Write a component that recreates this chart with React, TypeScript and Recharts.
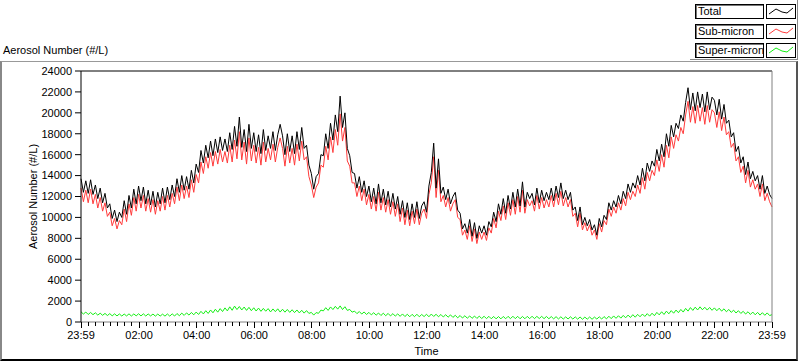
import React from "react";
import { LineChart, Line, XAxis, YAxis, ReferenceLine } from "recharts";

// minutes after 23:59, one sample every 5 minutes
const SAMPLE_STEP = 5;

// Total (#/L), one row per hour starting 23:59
const TOTAL = [
  [13700, 12400, 13500, 12300, 13600, 12200, 13100, 11800, 12800, 11400, 12300, 10900],
  [11300, 9900, 10700, 9600, 10500, 10000, 11600, 10300, 12100, 10900, 12700, 11300],
  [13000, 11600, 12900, 11300, 12600, 11200, 12500, 11000, 12400, 11300, 12800, 11400],
  [12900, 11700, 13100, 12000, 13700, 12400, 14000, 12600, 13900, 12700, 14500, 13300],
  [15100, 14300, 16400, 15200, 16900, 15700, 17300, 15900, 17500, 16200, 17700, 16400],
  [17500, 16300, 18100, 16500, 18700, 16800, 19600, 16700, 18400, 16300, 18900, 16600],
  [18100, 16300, 17900, 16100, 18400, 16400, 17800, 16600, 18200, 16400, 17900, 18900],
  [17800, 16000, 18000, 16300, 17800, 16100, 18200, 16500, 18600, 16600, 16900, 15000],
  [14200, 12700, 13900, 14200, 16000, 15900, 18000, 16600, 19000, 17400, 19800, 18200],
  [21600, 18600, 20000, 16600, 15900, 14300, 14200, 12800, 13900, 12400, 13500, 12000],
  [13000, 11500, 12800, 11300, 13200, 11400, 12700, 11200, 12500, 11000, 12300, 10800],
  [12000, 10300, 11600, 10000, 11400, 9800, 11300, 10000, 11500, 9900, 11100, 11500],
  [10500, 13000, 14300, 17100, 12800, 15600, 12300, 12900, 11700, 12700, 11300, 12000],
  [12400, 10700, 10400, 8900, 9400, 8500, 9800, 8200, 9500, 8000, 9200, 8500],
  [9200, 8300, 9600, 9100, 10500, 9600, 11300, 10300, 11800, 10400, 12100, 10800],
  [12400, 11000, 12700, 11100, 13400, 11000, 12400, 11800, 12300, 11200, 12800, 11400],
  [12600, 11600, 12400, 11700, 12800, 11600, 13000, 11900, 13300, 11800, 12600, 11700],
  [12400, 10700, 11000, 9700, 11000, 9300, 10000, 9200, 9800, 8800, 9300, 8300],
  [9900, 9100, 10200, 9800, 11400, 10700, 11600, 11000, 12100, 11300, 12500, 11800],
  [13200, 12400, 13300, 12800, 14000, 13100, 14700, 13500, 15200, 14400, 15400, 14900],
  [16500, 15400, 17000, 15800, 18000, 16800, 18800, 17700, 19000, 18500, 19800, 19200],
  [21000, 22400, 20300, 21900, 20200, 22000, 20500, 21800, 20100, 22000, 20300, 21500],
  [21200, 19800, 21300, 19400, 20800, 19000, 19300, 17700, 18100, 16300, 16800, 15200],
  [15800, 14100, 15300, 13700, 14400, 13500, 14000, 12700, 14000, 12300, 13000, 12200],
  [11800],
].flat();

const SUB_MICRON = [
  [12800, 11500, 12600, 11400, 12700, 11300, 12200, 10900, 11900, 10600, 11400, 10100],
  [10500, 9200, 9900, 8900, 9700, 9300, 10800, 9600, 11300, 10200, 11900, 10600],
  [12200, 10900, 12100, 10600, 11800, 10500, 11700, 10300, 11600, 10600, 12000, 10700],
  [12100, 11000, 12300, 11300, 12900, 11600, 13100, 11800, 13000, 11900, 13600, 12400],
  [14100, 13300, 15300, 14200, 15800, 14700, 16200, 14900, 16300, 15100, 16500, 15300],
  [16300, 15200, 16900, 15300, 17400, 15600, 18200, 15500, 17200, 15100, 17600, 15400],
  [16900, 15200, 16700, 15000, 17200, 15300, 16600, 15500, 17000, 15300, 16700, 17600],
  [16600, 14900, 16800, 15200, 16600, 15000, 17000, 15400, 17300, 15500, 15800, 13900],
  [13100, 11900, 12900, 13300, 15000, 14800, 16800, 15500, 17700, 16200, 18400, 16900],
  [19900, 17300, 18600, 15400, 14900, 13300, 13300, 12000, 13000, 11600, 12700, 11200],
  [12200, 10800, 12000, 10600, 12400, 10700, 11900, 10500, 11700, 10300, 11500, 10100],
  [11300, 9600, 10900, 9300, 10700, 9200, 10600, 9400, 10800, 9300, 10400, 10800],
  [9900, 12200, 13300, 15800, 11900, 14500, 11500, 12100, 11000, 11900, 10600, 11300],
  [11700, 10000, 9800, 8300, 8800, 7900, 9200, 7700, 8900, 7500, 8600, 7900],
  [8600, 7800, 9000, 8500, 9900, 9000, 10600, 9700, 11100, 9800, 11400, 10200],
  [11700, 10300, 12000, 10500, 12600, 10400, 11700, 11100, 11600, 10600, 12100, 10800],
  [11900, 10900, 11700, 11000, 12100, 11000, 12300, 11200, 12500, 11100, 11900, 11000],
  [11700, 10100, 10400, 9100, 10400, 8800, 9500, 8700, 9300, 8300, 8800, 7900],
  [9400, 8600, 9700, 9300, 10800, 10100, 11000, 10400, 11400, 10700, 11800, 11100],
  [12400, 11700, 12500, 12000, 13100, 12300, 13800, 12700, 14300, 13500, 14500, 14000],
  [15500, 14400, 16000, 14800, 16900, 15700, 17700, 16600, 17900, 17300, 18600, 18000],
  [19800, 21100, 19100, 20600, 19000, 20700, 19200, 20500, 18900, 20700, 19100, 20300],
  [20000, 18600, 20100, 18300, 19600, 17900, 18200, 16700, 17100, 15400, 15800, 14300],
  [14900, 13300, 14500, 12900, 13600, 12700, 13200, 12000, 13200, 11600, 12300, 11500],
  [11000],
].flat();

const SUPER_MICRON = [
  [980, 760, 950, 720, 910, 700, 880, 660, 840, 640, 820, 620],
  [800, 590, 780, 580, 770, 570, 760, 580, 780, 570, 770, 590],
  [790, 580, 780, 570, 770, 580, 760, 560, 760, 570, 750, 560],
  [770, 560, 780, 570, 810, 600, 850, 630, 870, 660, 910, 690],
  [950, 720, 1020, 770, 1080, 820, 1150, 880, 1220, 940, 1280, 1000],
  [1350, 1060, 1450, 1120, 1520, 1190, 1480, 1150, 1430, 1110, 1400, 1080],
  [1360, 1050, 1330, 1020, 1300, 1030, 1280, 960, 1250, 990, 1260, 950],
  [1220, 940, 1200, 920, 1170, 900, 1150, 870, 1120, 850, 1090, 820],
  [920, 660, 900, 830, 1140, 1060, 1370, 1110, 1440, 1190, 1500, 1230],
  [1540, 1190, 1460, 1110, 1200, 940, 1040, 800, 1000, 760, 960, 720],
  [920, 680, 890, 650, 860, 620, 840, 600, 820, 580, 800, 560],
  [780, 540, 770, 520, 740, 500, 730, 510, 740, 500, 720, 520],
  [740, 500, 760, 530, 740, 500, 720, 480, 700, 460, 680, 440],
  [640, 400, 620, 380, 600, 360, 580, 350, 570, 340, 560, 330],
  [550, 320, 540, 310, 530, 300, 520, 300, 530, 310, 540, 320],
  [550, 320, 540, 310, 530, 310, 540, 320, 550, 320, 540, 330],
  [540, 320, 530, 310, 520, 300, 510, 290, 500, 280, 490, 290],
  [500, 280, 490, 270, 480, 260, 470, 270, 480, 260, 470, 280],
  [500, 280, 520, 300, 550, 320, 580, 350, 600, 370, 630, 400],
  [660, 430, 700, 460, 730, 500, 760, 530, 800, 560, 840, 600],
  [920, 680, 980, 720, 1040, 780, 1090, 840, 1140, 890, 1200, 950],
  [1300, 1040, 1380, 1110, 1420, 1150, 1450, 1170, 1410, 1140, 1390, 1120],
  [1350, 1080, 1320, 1040, 1260, 980, 1200, 920, 1130, 860, 1080, 820],
  [1020, 760, 980, 720, 950, 690, 920, 660, 890, 640, 870, 620],
  [700],
].flat();

const Y_TICKS = [0, 2000, 4000, 6000, 8000, 10000, 12000, 14000, 16000, 18000, 20000, 22000, 24000];

// labelled x ticks (minutes after 23:59)
const MAJOR_TICKS = [0, 121, 241, 361, 481, 601, 721, 841, 961, 1081, 1201, 1321, 1440];
const MAJOR_LABELS = ["23:59", "02:00", "04:00", "06:00", "08:00", "10:00", "12:00", "14:00", "16:00", "18:00", "20:00", "22:00", "23:59"];

const SERIES_NAMES = ["Total", "Sub-micron", "Super-micron"];
const SERIES_COLORS = ["#000000", "#ff3b3b", "#14f014"];

const data = TOTAL.map((v, i) => ({
  t: i * SAMPLE_STEP,
  total: v,
  sub: SUB_MICRON[i],
  sup: SUPER_MICRON[i],
}));

// quarter-hour minor ticks + the labelled ones
const minorTicks: number[] = [];
for (let m = 1; m < 1440; m += 15) {
  if (!MAJOR_TICKS.includes(m)) minorTicks.push(m);
}
const allTicks = [...MAJOR_TICKS, ...minorTicks].sort((a, b) => a - b);

const FONT = "'Liberation Sans', Arial, sans-serif";

function TimeTick(props: any) {
  const { x, y, payload } = props;
  const idx = MAJOR_TICKS.indexOf(payload.value);
  const major = idx >= 0;
  return (
    <g>
      <line x1={x} x2={x} y1={y} y2={y + (major ? 6 : 4)} stroke="#000" strokeWidth={1} shapeRendering="crispEdges" />
      {major && (
        <text x={x} y={y + 17} textAnchor="middle" fontSize={11} fill="#000">
          {MAJOR_LABELS[idx]}
        </text>
      )}
    </g>
  );
}

function LegendRow({ name, color, top }: { name: string; color: string; top: number }) {
  return (
    <>
      <div
        style={{
          position: "absolute",
          left: 695,
          top,
          width: 69,
          height: 15,
          boxSizing: "border-box",
          border: "1px solid #000",
          boxShadow: "inset 1px 1px 0 #777",
          fontSize: 11,
          lineHeight: "13px",
          paddingLeft: 2,
          color: "#000",
          whiteSpace: "nowrap",
          overflow: "hidden",
        }}
      >
        {name}
      </div>
      <svg style={{ position: "absolute", left: 766, top }} width={30} height={15}>
        <rect x={0.5} y={0.5} width={29} height={14} fill="#fff" stroke="#000" />
        <polyline points="3,10 10,5 16,8 21,9 27,4" fill="none" stroke={color} strokeWidth={1} />
      </svg>
    </>
  );
}

export default function App() {
  return (
    <div style={{ position: "absolute", left: 0, top: 0, width: 800, height: 361, background: "#fff", fontFamily: FONT }}>
      <LineChart width={800} height={361} data={data} margin={{ top: 71, right: 28, bottom: 0, left: 0 }}>
        <XAxis
          dataKey="t"
          type="number"
          domain={[0, 1440]}
          ticks={allTicks}
          interval={0}
          tick={<TimeTick />}
          tickLine={false}
          tickSize={0}
          tickMargin={0}
          height={39}
          axisLine={{ stroke: "#808080" }}
          label={{ value: "Time", position: "insideBottom", offset: 6, fill: "#000", fontSize: 11 }}
        />
        <YAxis
          type="number"
          domain={[0, 24000]}
          ticks={Y_TICKS}
          interval={0}
          width={81}
          tick={{ fill: "#000", fontSize: 11 }}
          tickLine={{ stroke: "#000" }}
          tickSize={6}
          tickMargin={3}
          axisLine={{ stroke: "#000" }}
          label={({ viewBox }: any) => (
            <text
              x={33}
              y={viewBox.y + viewBox.height / 2}
              transform={`rotate(-90, 33, ${viewBox.y + viewBox.height / 2})`}
              textAnchor="middle"
              dominantBaseline="central"
              fontSize={11}
              fill="#000"
            >
              Aerosol Number (#/L)
            </text>
          )}
        />
        <Line type="linear" dataKey="sup" stroke={SERIES_COLORS[2]} strokeWidth={1} dot={false} isAnimationActive={false} />
        <Line type="linear" dataKey="sub" stroke={SERIES_COLORS[1]} strokeWidth={1} dot={false} isAnimationActive={false} />
        <Line type="linear" dataKey="total" stroke={SERIES_COLORS[0]} strokeWidth={1} dot={false} isAnimationActive={false} />
        <ReferenceLine y={24000} stroke="#000" />
        <ReferenceLine x={1440} stroke="#808080" />
      </LineChart>

      {/* outer panel frame */}
      <div
        style={{
          position: "absolute",
          left: 0,
          top: 61,
          width: 798,
          height: 300,
          boxSizing: "border-box",
          borderTop: "1px solid #999",
          borderLeft: "2px solid #888",
          borderRight: "2px solid #555",
          borderBottom: "2px solid #000",
          pointerEvents: "none",
        }}
      />
      {/* legend panel */}
      <div
        style={{
          position: "absolute",
          left: 690,
          top: 0,
          width: 108,
          height: 60,
          boxSizing: "border-box",
          borderRight: "1px solid #888",
          borderBottom: "1px solid #888",
        }}
      />
      {SERIES_NAMES.map((n, i) => (
        <LegendRow key={n} name={n} color={SERIES_COLORS[i]} top={4 + i * 19.5} />
      ))}
      <div style={{ position: "absolute", left: 3, top: 44, fontSize: 11, lineHeight: "13px", color: "#000" }}>
        Aerosol Number (#/L)
      </div>
    </div>
  );
}
